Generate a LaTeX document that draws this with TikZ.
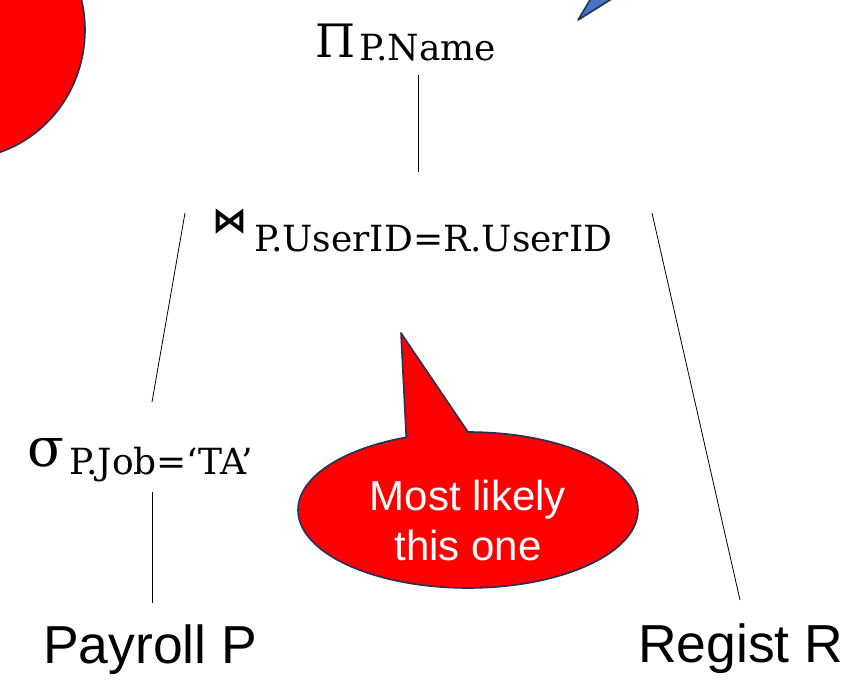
\documentclass[tikz,border=0pt]{standalone}
\usepackage{fontspec}
\setmainfont{DejaVu Serif}
\newfontfamily\armfont{Liberation Sans}
\newfontfamily\symfont{DejaVu Sans}
\definecolor{calred}{HTML}{FF0000}
\definecolor{calblue}{HTML}{4472C4}
\definecolor{caledge}{HTML}{1F3458}
\begin{document}
\begin{tikzpicture}[x=1pt,y=-1pt,
  lbl/.style={inner sep=0pt, anchor=base west},
  conn/.style={draw=black, line width=0.8pt},
  bubble/.style={fill=calred, draw=caledge, line width=1.6pt, line join=round},
  bluebub/.style={fill=calblue, draw=caledge, line width=1.6pt, line join=round},
  rel/.style={lbl, font=\armfont\fontsize{53.5}{60}\selectfont},
  optxt/.style={lbl, font=\fontsize{36}{42}\selectfont},
  bubtxt/.style={inner sep=0pt, anchor=base, text=white, font=\armfont\fontsize{42}{50}\selectfont}]
\clip (0,0) rectangle (846,693);
\fill[white] (0,0) rectangle (846,693);

% partial bubbles at the top
\draw[bubble] (-40,30) ellipse [x radius=125, y radius=129];
\draw[bluebub] (614,-40) -- (578,20) -- (674,-40) -- cycle;

% projection
\node[lbl, font=\fontsize{46}{50}\selectfont] (pi) at (315,58) {Π};
\node[optxt] (pisub) at (359,61) {P.Name};
% join
\node[lbl, font=\symfont\bfseries\fontsize{35}{38}\selectfont] (join) at (212,232) {⋈};
\node[optxt] (joinsub) at (254,251) {P.UserID=R.UserID};
% selection
\node[lbl, font=\fontsize{54}{60}\selectfont] (sig) at (27,466) {σ};
\node[optxt] (sigsub) at (69,474) {P.Job=‘TA’};
% relations
\node[rel] (payroll) at (43,663) {Payroll P};
\node[rel] (regist) at (638,662) {Regist R};

% connectors
\coordinate (piB) at (418,75);
\coordinate (joinT) at (418,172);
\coordinate (joinL) at (185,213);
\coordinate (sigT) at (152,402);
\coordinate (joinR) at (652,213);
\coordinate (regT) at (740,600);
\coordinate (sigB) at (152,492);
\coordinate (payT) at (152,603);
\draw[conn] (piB) -- (joinT);
\draw[conn] (joinL) -- (sigT);
\draw[conn] (joinR) -- (regT);
\draw[conn] (sigB) -- (payT);

% callout
\draw[bubble] (468,510) ++(270:170 and 78)
  arc[start angle=270, end angle=608.7, x radius=170, y radius=78]
  -- (401,333) -- cycle;
\node[bubtxt] (ct1) at (468,510) {Most likely};
\node[bubtxt] (ct2) at (468,560) {this one};
\end{tikzpicture}
\end{document}
